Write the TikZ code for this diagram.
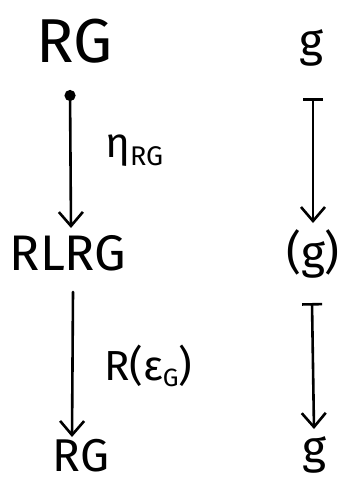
\documentclass[tikz,border=0pt]{standalone}
\usepackage{fontspec}
\setmainfont{Fira Sans}
\usetikzlibrary{arrows.meta}
\begin{document}
\begin{tikzpicture}[x=1pt,y=-1pt,
  lbl/.style={inner sep=0pt, anchor=base},
  hugetxt/.style={lbl, font=\fontsize{62}{64}\selectfont},
  bigtxt/.style={lbl, font=\fontsize{50}{54}\selectfont},
  midtxt/.style={lbl, font=\fontsize{46}{50}\selectfont},
  gtxt/.style={lbl, font=\fontsize{46}{50}\selectfont},
  labtxt/.style={inner sep=0pt, anchor=base west, font=\fontsize{42}{46}\selectfont},
  arr/.style={line width=2.6pt, line cap=round,
    -{Straight Barb[length=14pt,width=24pt,line width=2.6pt]}},
  blobarr/.style={line width=2.6pt,
    {Circle[length=11pt]}-{Straight Barb[length=14pt,width=24pt,line width=2.6pt]}},
  mapsto/.style={line width=2.6pt,
    {Bar[width=20pt,line width=2.6pt]}-{Straight Barb[length=14pt,width=24pt,line width=2.6pt]}}
]
\useasboundingbox (0,0) rectangle (342,485);
% left column
\node[hugetxt] (rgA) at (75,62) {RG};
\node[bigtxt] (rlrg) at (68,270) {RLRG};
\node[midtxt] (rgB) at (81,471) {RG};
\node[labtxt] (eta) at (105,157) {η\raisebox{-8pt}{\fontsize{27}{29}\selectfont RG}};
\node[labtxt] (reps) at (104,380) {R(ε\raisebox{-6pt}{\fontsize{25}{27}\selectfont G})};
% right column
\node[gtxt] (gA) at (311,56) {g};
\node[gtxt] (gB) at (313,268) {(g)};
\node[gtxt] (gC) at (314,463) {g};
% arrows
\draw[blobarr] ([xshift=-5pt,yshift=-28pt]rgA.base) -- ([xshift=3pt,yshift=42pt]rlrg.base);
\draw[arr] ([xshift=5pt,yshift=-22pt]rlrg.base) -- ([xshift=-9pt,yshift=34pt]rgB.base);
\draw[mapsto] ([xshift=2pt,yshift=-42pt]gA.base) -- ([xshift=0pt,yshift=45pt]gB.base);
\draw[mapsto] ([xshift=-1pt,yshift=-35pt]gB.base) -- ([xshift=0pt,yshift=34pt]gC.base);
\end{tikzpicture}
\end{document}
